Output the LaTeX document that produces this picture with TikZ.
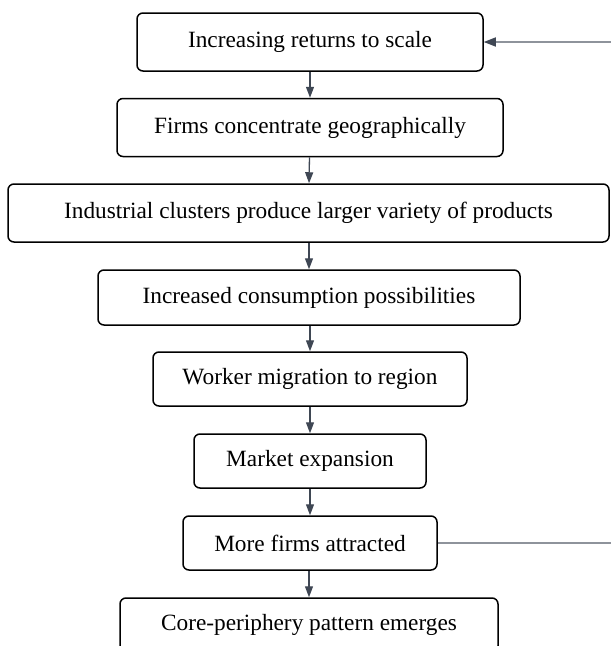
\documentclass[tikz,border=0pt]{standalone}
\usepackage{fontspec}
\setmainfont{Liberation Serif}
\usetikzlibrary{arrows.meta}
\definecolor{edgecol}{HTML}{3F4754}
\definecolor{loopcol}{HTML}{8E939B}
\begin{document}
\begin{tikzpicture}[x=1pt,y=-1pt,
  box/.style={draw=black,line width=1.5pt,rounded corners=6pt,fill=white,inner sep=0pt,
    font=\fontsize{23.3}{26}\selectfont},
  flow/.style={draw=edgecol,line width=1.3pt,-{Triangle[length=11pt,width=8pt]}},
  loopline/.style={draw=loopcol,line width=1.5pt,-{Triangle[length=12pt,width=9pt,color=edgecol]}}]
\useasboundingbox (0,0) rectangle (611,646);
\clip (0,0) rectangle (611,646);
\node[box,minimum width=346pt,minimum height=58pt] (n1) at (310,42) {Increasing returns to scale};
\node[box,minimum width=386pt,minimum height=58pt] (n2) at (310,127.5) {Firms concentrate geographically};
\node[box,minimum width=601pt,minimum height=58pt] (n3) at (308.5,213) {Industrial clusters produce larger variety of products};
\node[box,minimum width=422pt,minimum height=55pt] (n4) at (309,297.5) {Increased consumption possibilities};
\node[box,minimum width=314pt,minimum height=54pt] (n5) at (310,379) {Worker migration to region};
\node[box,minimum width=232pt,minimum height=54pt] (n6) at (310,461) {Market expansion};
\node[box,minimum width=254pt,minimum height=54pt] (n7) at (310,543) {More firms attracted};
\node[box,minimum width=378pt,minimum height=54pt] (n8) at (309,625) {Core-periphery pattern emerges};
\draw[flow] (n1) -- (n2);
\draw[flow] (n2) -- (n3);
\draw[flow] (n3.south -| n4) -- (n4);
\draw[flow] (n4.south -| n5) -- (n5);
\draw[flow] (n5) -- (n6);
\draw[flow] (n6) -- (n7);
\draw[flow] (n7.south -| n8) -- (n8);
\coordinate (c1) at (640,543);
\coordinate (c2) at (640,42);
\draw[loopline] (n7.east) -- (c1) -- (c2) -- (n1.east);
\end{tikzpicture}
\end{document}
